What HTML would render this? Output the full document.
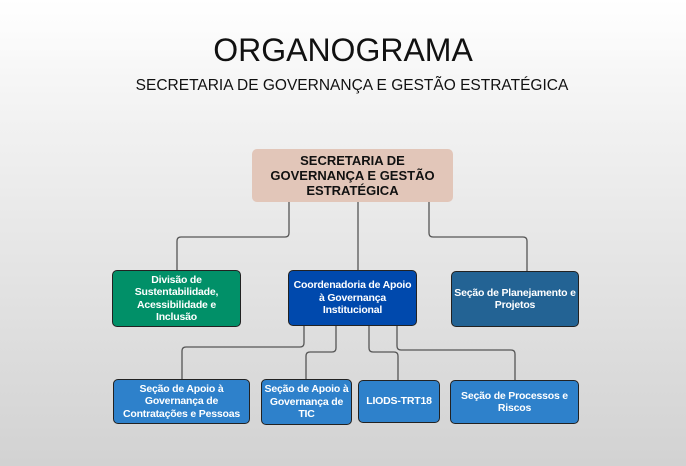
<!DOCTYPE html>
<html><head><meta charset="utf-8"><style>
body{margin:0;width:686px;height:466px;overflow:hidden;background:linear-gradient(#ffffff 0%,#f2f2f2 25%,#d2d2d2 100%);font-family:"Liberation Sans",sans-serif;position:relative}
.t{position:absolute;left:0;width:686px;text-align:center;color:#111}
.b{position:absolute;box-sizing:border-box;border:1.5px solid #222;border-radius:5px;display:flex;align-items:center;justify-content:center;text-align:center;color:#fff;font-weight:bold;font-size:10.5px;line-height:12.5px;padding:0 1px;letter-spacing:-0.2px}
svg{position:absolute;left:0;top:0}
</style></head><body>
<div class="t" style="top:32px;font-size:32px;">ORGANOGRAMA</div>
<div class="t" style="top:77px;font-size:15.5px;left:9px;">SECRETARIA DE GOVERNANÇA E GESTÃO ESTRATÉGICA</div>
<svg width="686" height="466" fill="none" stroke="#555" stroke-width="1.3">
<path d="M289 202V233q0 4-4 4H181q-4 0-4 4V270"/>
<path d="M358 202V270"/>
<path d="M429 202V233q0 4 4 4H523q4 0 4 4V271"/>
<path d="M304 326V343q0 4-4 4H186q-4 0-4 4V379"/>
<path d="M336 326V348q0 4-4 4H310q-4 0-4 4V379"/>
<path d="M369 326V348q0 4 4 4H394q4 0 4 4V380"/>
<path d="M397 326V346q0 4 4 4H511q4 0 4 4V380"/>
</svg>
<div class="b" style="left:252px;top:149px;width:201px;height:53px;background:#e2c6b9;border:none;color:#111;font-size:13px;line-height:15px;letter-spacing:0">SECRETARIA DE<br>GOVERNANÇA E GESTÃO<br>ESTRATÉGICA</div>
<div class="b" style="left:112px;top:270px;width:129px;height:57px;background:#019068;">Divisão de<br>Sustentabilidade,<br>Acessibilidade e<br>Inclusão</div>
<div class="b" style="left:288px;top:270px;width:129px;height:56px;background:#0049ad;">Coordenadoria de Apoio<br>à Governança<br>Institucional</div>
<div class="b" style="left:451px;top:271px;width:128px;height:56px;background:#236394;">Seção de Planejamento e Projetos</div>
<div class="b" style="left:113px;top:379px;width:137px;height:45px;background:#2e81cb;">Seção de Apoio à<br>Governança de<br>Contratações e Pessoas</div>
<div class="b" style="left:261px;top:379px;width:91px;height:46px;background:#2e81cb;">Seção de Apoio à<br>Governança de<br>TIC</div>
<div class="b" style="left:358px;top:380px;width:82px;height:43px;background:#2e81cb;">LIODS-TRT18</div>
<div class="b" style="left:450px;top:380px;width:129px;height:44px;background:#2e81cb;">Seção de Processos e<br>Riscos</div>
</body></html>
